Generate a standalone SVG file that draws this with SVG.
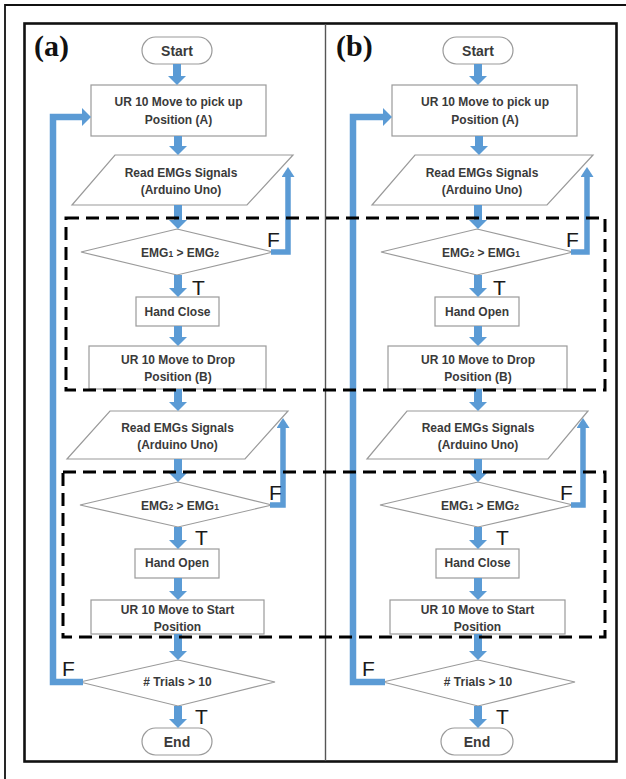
<svg xmlns="http://www.w3.org/2000/svg" width="626" height="779" viewBox="0 0 626 779">
<defs>
<style>
.nd{fill:#fff;stroke:#9a9a9a;stroke-width:1.2}
.tx{font-family:"Liberation Sans",Arial,sans-serif;font-weight:bold;font-size:12px;fill:#3a3a3a;text-anchor:middle}
.tt{font-size:14px}
.sb{font-size:8.5px}
.lb{font-family:"Liberation Sans",Arial,sans-serif;font-size:21px;fill:#1a1a1a}
.pn{font-family:"Liberation Serif","Times New Roman",serif;font-weight:bold;font-size:30px;fill:#111}
.ar{fill:none;stroke:#5b9bd5;stroke-width:8;marker-end:url(#ah)}
.lp{fill:none;stroke:#5b9bd5;stroke-width:5.5;stroke-linejoin:miter;marker-end:url(#ahs)}
.lpl{fill:none;stroke:#5b9bd5;stroke-width:6.5;stroke-linejoin:miter;marker-end:url(#ah)}
.ds{fill:none;stroke:#000;stroke-width:3;stroke-dasharray:13 7}
</style>
<marker id="ah" viewBox="0 0 9 18" refX="0" refY="9" markerWidth="9" markerHeight="18" markerUnits="userSpaceOnUse" orient="auto"><path d="M0,0 L9,9 L0,18 z" fill="#5b9bd5"/></marker>
<marker id="ahs" viewBox="0 0 10 13" refX="0" refY="6.5" markerWidth="10" markerHeight="13" markerUnits="userSpaceOnUse" orient="auto"><path d="M0,0 L10,6.5 L0,13 z" fill="#5b9bd5"/></marker>
</defs>
<rect width="626" height="779" fill="#fff"/>
<g id="frame">
<path d="M5,779 V5 H626" fill="none" stroke="#111" stroke-width="1.8"/>
<rect x="24.5" y="23.5" width="592" height="738" fill="none" stroke="#111" stroke-width="2.6"/>
<line x1="325.5" y1="24" x2="325.5" y2="761" stroke="#555" stroke-width="1.4"/>
<text class="pn" x="34" y="56">(a)</text>
<text class="pn" x="336" y="56">(b)</text>
</g>

<!-- Panel a nodes -->
<g id="a-start"><rect class="nd" x="142" y="37" width="70" height="27" rx="13.5"/><text class="tx tt" x="177" y="56">Start</text></g>
<g id="a-pick"><rect class="nd" x="91" y="85" width="175" height="51"/><text class="tx" x="178.5" y="106">UR 10 Move to pick up</text><text class="tx" x="178.5" y="124">Position (A)</text></g>
<g id="a-read1"><polygon class="nd" points="115,155 293,155 247,205 72,205"/><text class="tx" x="181" y="177">Read EMGs Signals</text><text class="tx" x="181" y="194">(Arduino Uno)</text></g>
<g id="a-dec1"><polygon class="nd" points="177,229 273,252 177,275 81,252"/><text class="tx" x="180" y="257">EMG<tspan class="sb">1</tspan> &gt; EMG<tspan class="sb">2</tspan></text></g>
<g id="a-hand1"><rect class="nd" x="136" y="297" width="83" height="29"/><text class="tx" x="177.5" y="316">Hand Close</text></g>
<g id="a-drop"><rect class="nd" x="89" y="346" width="177" height="43"/><text class="tx" x="178" y="364">UR 10 Move to Drop</text><text class="tx" x="178" y="381">Position (B)</text></g>
<g id="a-read2"><polygon class="nd" points="110,411 288,411 245,459 67,459"/><text class="tx" x="177.5" y="432">Read EMGs Signals</text><text class="tx" x="177.5" y="449">(Arduino Uno)</text></g>
<g id="a-dec2"><polygon class="nd" points="178,482 272,505 178,527 80,505"/><text class="tx" x="180" y="510">EMG<tspan class="sb">2</tspan> &gt; EMG<tspan class="sb">1</tspan></text></g>
<g id="a-hand2"><rect class="nd" x="135" y="549" width="84" height="29"/><text class="tx" x="177" y="567">Hand Open</text></g>
<g id="a-home"><rect class="nd" x="91" y="600" width="173" height="34"/><text class="tx" x="177.5" y="614">UR 10 Move to Start</text><text class="tx" x="177.5" y="631">Position</text></g>
<g id="a-dec3"><polygon class="nd" points="178,660 275,682 178,706 80,682"/><text class="tx" x="177.5" y="686"># Trials &gt; 10</text></g>
<g id="a-end"><rect class="nd" x="142" y="728" width="70" height="27" rx="13.5"/><text class="tx tt" x="177" y="747">End</text></g>

<!-- Panel b nodes -->
<g id="b-start"><rect class="nd" x="443" y="37" width="70" height="27" rx="13.5"/><text class="tx tt" x="478" y="56">Start</text></g>
<g id="b-pick"><rect class="nd" x="392" y="85" width="185" height="51"/><text class="tx" x="485" y="106">UR 10 Move to pick up</text><text class="tx" x="485" y="124">Position (A)</text></g>
<g id="b-read1"><polygon class="nd" points="415,155 593,155 547,205 372,205"/><text class="tx" x="482" y="177">Read EMGs Signals</text><text class="tx" x="482" y="194">(Arduino Uno)</text></g>
<g id="b-dec1"><polygon class="nd" points="477,229 573,252 477,275 381,252"/><text class="tx" x="481" y="257">EMG<tspan class="sb">2</tspan> &gt; EMG<tspan class="sb">1</tspan></text></g>
<g id="b-hand1"><rect class="nd" x="435" y="297" width="84" height="29"/><text class="tx" x="477" y="316">Hand Open</text></g>
<g id="b-drop"><rect class="nd" x="388" y="346" width="179" height="43"/><text class="tx" x="478" y="364">UR 10 Move to Drop</text><text class="tx" x="478" y="381">Position (B)</text></g>
<g id="b-read2"><polygon class="nd" points="407,411 588,411 548,459 367,459"/><text class="tx" x="478" y="432">Read EMGs Signals</text><text class="tx" x="478" y="449">(Arduino Uno)</text></g>
<g id="b-dec2"><polygon class="nd" points="478,482 573,505 478,527 380,505"/><text class="tx" x="480" y="510">EMG<tspan class="sb">1</tspan> &gt; EMG<tspan class="sb">2</tspan></text></g>
<g id="b-hand2"><rect class="nd" x="436" y="549" width="83" height="29"/><text class="tx" x="477.5" y="567">Hand Close</text></g>
<g id="b-home"><rect class="nd" x="390" y="600" width="175" height="34"/><text class="tx" x="477.5" y="614">UR 10 Move to Start</text><text class="tx" x="477.5" y="631">Position</text></g>
<g id="b-dec3"><polygon class="nd" points="478,660 575,682 478,706 383,682"/><text class="tx" x="478" y="686"># Trials &gt; 10</text></g>
<g id="b-end"><rect class="nd" x="441" y="728" width="72" height="27" rx="13.5"/><text class="tx tt" x="477" y="747">End</text></g>

<g id="connectors">
<line class="ar" x1="177" y1="64" x2="177" y2="76"/>
<line class="ar" x1="178" y1="136" x2="178" y2="146"/>
<line class="ar" x1="178" y1="205" x2="178" y2="220"/>
<line class="ar" x1="178" y1="275" x2="178" y2="288"/>
<line class="ar" x1="178" y1="326" x2="178" y2="337"/>
<line class="ar" x1="178" y1="389" x2="178" y2="402"/>
<line class="ar" x1="178" y1="459" x2="178" y2="473"/>
<line class="ar" x1="178" y1="527" x2="178" y2="540"/>
<line class="ar" x1="178" y1="578" x2="178" y2="591"/>
<line class="ar" x1="178" y1="634" x2="178" y2="651"/>
<line class="ar" x1="178" y1="706" x2="178" y2="719"/>
<polyline class="lp" points="271,252 288,252 288,177"/>
<polyline class="lp" points="270,505 283,505 283,428"/>
<polyline class="lpl" points="83,682 53,682 53,117 82,117"/>

<line class="ar" x1="478" y1="64" x2="478" y2="76"/>
<line class="ar" x1="479" y1="136" x2="479" y2="146"/>
<line class="ar" x1="478" y1="205" x2="478" y2="220"/>
<line class="ar" x1="478" y1="275" x2="478" y2="288"/>
<line class="ar" x1="478" y1="326" x2="478" y2="337"/>
<line class="ar" x1="478" y1="389" x2="478" y2="402"/>
<line class="ar" x1="478" y1="459" x2="478" y2="473"/>
<line class="ar" x1="478" y1="527" x2="478" y2="540"/>
<line class="ar" x1="478" y1="578" x2="478" y2="591"/>
<line class="ar" x1="478" y1="634" x2="478" y2="651"/>
<line class="ar" x1="478" y1="706" x2="478" y2="719"/>
<polyline class="lp" points="571,252 587,252 587,177"/>
<polyline class="lp" points="571,505 583,505 583,428"/>
<polyline class="lpl" points="385,682 353,682 353,117 383,117"/>
</g>

<g id="labels">
<text class="lb" x="267" y="247">F</text>
<text class="lb" x="192" y="295">T</text>
<text class="lb" x="269" y="500">F</text>
<text class="lb" x="195" y="545">T</text>
<text class="lb" x="62" y="676">F</text>
<text class="lb" x="195" y="724">T</text>
<text class="lb" x="566" y="247">F</text>
<text class="lb" x="493" y="295">T</text>
<text class="lb" x="560" y="500">F</text>
<text class="lb" x="496" y="545">T</text>
<text class="lb" x="362" y="676">F</text>
<text class="lb" x="496" y="724">T</text>
</g>

<g id="groups">
<rect class="ds" x="66" y="218" width="539" height="172"/>
<rect class="ds" x="63" y="472" width="542" height="165"/>
</g>
</svg>
